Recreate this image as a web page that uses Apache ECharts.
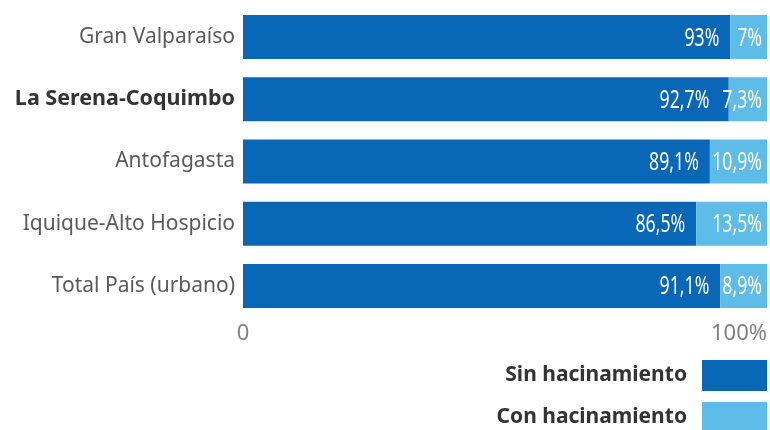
<!DOCTYPE html>
<html>
<head>
<meta charset="utf-8">
<script src="https://cdn.jsdelivr.net/npm/echarts@6/dist/echarts.min.js"></script>
<style>
  html, body { margin: 0; padding: 0; background: #fff; }
  #chart { width: 770px; height: 430px; }
</style>
</head>
<body>
<div id="chart"></div>
<script>
// Urban areas, top to bottom
const areas = ['Gran Valparaíso', 'La Serena-Coquimbo', 'Antofagasta', 'Iquique-Alto Hospicio', 'Total País (urbano)'];
// Share of households without / with overcrowding (%)
const sinHacinamiento = [93, 92.7, 89.1, 86.5, 91.1];
const conHacinamiento = [7, 7.3, 10.9, 13.5, 8.9];
const highlighted = 'La Serena-Coquimbo';
const seriesNames = ['Sin hacinamiento', 'Con hacinamiento'];
const tickLabels = { 0: '0', 100: '100%' };

const DARK = '#0867b6';
const LIGHT = '#5dbde8';
const UI_FONT = '"Noto Sans", sans-serif';
const pctFmt = v => String(v).replace('.', ',') + '%';

// Value labels are drawn horizontally squeezed to get a condensed look
const VALUE_FONT = '26px "Noto Sans", sans-serif';
const SQUEEZE = 0.68;
const measureCtx = document.createElement('canvas').getContext('2d');
measureCtx.font = VALUE_FONT;
const labelWidth = t => measureCtx.measureText(t).width * SQUEEZE;

const chart = echarts.init(document.getElementById('chart'));

function renderValueLabels(params, api) {
  const row = api.value(0);
  const sin = api.value(1);
  const con = api.value(2);
  const center = api.coord([0, row]);
  const xDarkEnd = api.coord([sin, row])[0];
  const xEnd = api.coord([100, row])[0];
  const conText = pctFmt(con);
  const sinText = pctFmt(sin);
  const conRight = xEnd - 5;
  const conLeft = conRight - labelWidth(conText);
  const sinRight = Math.min(xDarkEnd - 11, conLeft - 13);
  const mk = (text, x) => ({
    type: 'text', x: x, y: center[1] + 1, scaleX: SQUEEZE,
    style: { text: text, font: VALUE_FONT, fill: '#fff', align: 'right', verticalAlign: 'middle' }
  });
  return { type: 'group', children: [mk(sinText, sinRight), mk(conText, conRight)] };
}

const legendBase = {
  orient: 'vertical', right: 3, align: 'right', padding: 0,
  itemWidth: 65, itemHeight: 31, icon: 'rect',
  textStyle: { fontSize: 21, fontWeight: 'bold', color: '#333', fontFamily: UI_FONT, padding: [0, 10, 0, 0] }
};

chart.setOption({
  animation: false,
  grid: { left: 243, right: 2, top: 6, bottom: 113, containLabel: false },
  xAxis: {
    type: 'value', min: 0, max: 100, interval: 100,
    axisLine: { show: false }, axisTick: { show: false }, splitLine: { show: false },
    axisLabel: {
      color: '#808080', fontSize: 22, margin: 6, fontFamily: UI_FONT,
      alignMaxLabel: 'right', alignMinLabel: 'center',
      formatter: v => tickLabels[v] ?? ''
    }
  },
  yAxis: {
    type: 'category', data: areas, inverse: true,
    axisLine: { show: false }, axisTick: { show: false },
    axisLabel: {
      margin: 8, fontSize: 21, color: '#5a5a5a', fontFamily: UI_FONT,
      formatter: v => v === highlighted ? '{b|' + v + '}' : v,
      rich: { b: { fontWeight: 'bold', color: '#333', fontSize: 21.5, fontFamily: UI_FONT } }
    }
  },
  legend: [
    Object.assign({}, legendBase, { top: 360, data: [seriesNames[0]] }),
    Object.assign({}, legendBase, { top: 402, data: [seriesNames[1]] })
  ],
  series: [
    {
      name: seriesNames[0], type: 'bar', stack: 'total', data: sinHacinamiento, barWidth: 44,
      itemStyle: { color: DARK }
    },
    {
      name: seriesNames[1], type: 'bar', stack: 'total', data: conHacinamiento, barWidth: 44,
      itemStyle: { color: LIGHT }
    },
    {
      type: 'custom', name: 'valores', silent: true, z: 10,
      encode: { x: 1, y: 0 },
      data: areas.map((a, i) => [i, sinHacinamiento[i], conHacinamiento[i]]),
      renderItem: renderValueLabels
    }
  ]
});
</script>
</body>
</html>
